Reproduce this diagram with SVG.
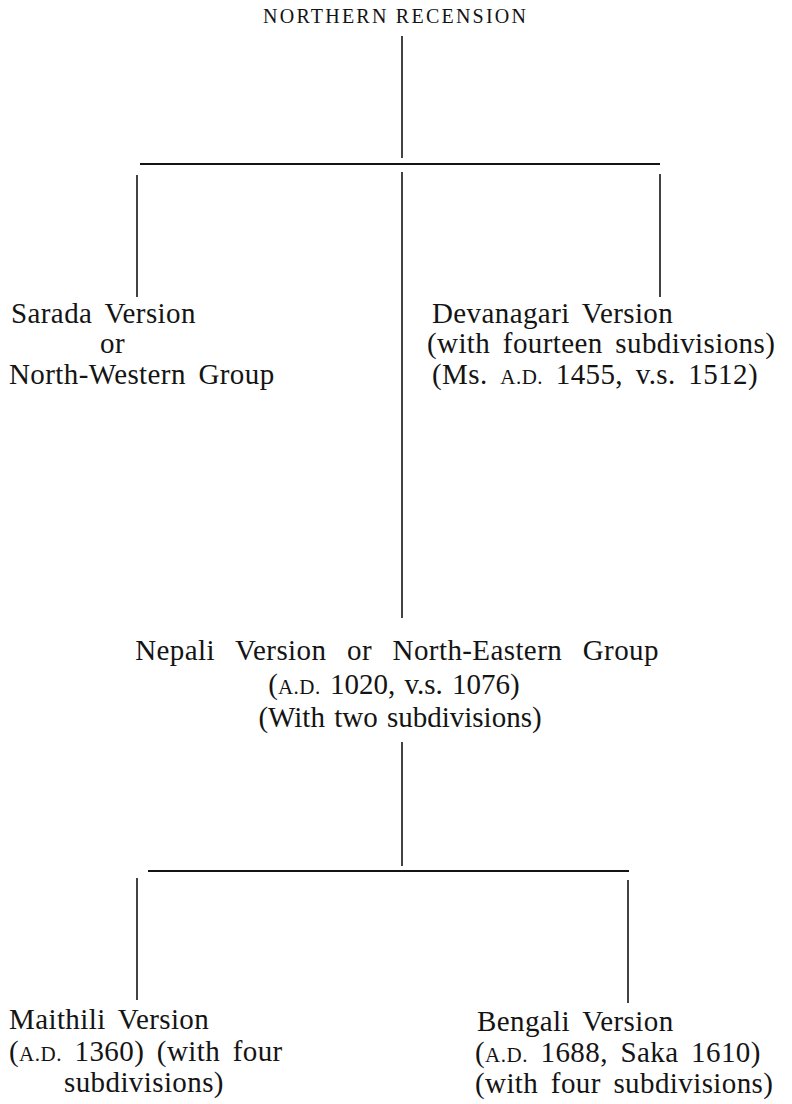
<svg xmlns="http://www.w3.org/2000/svg" width="792" height="1104" viewBox="0 0 792 1104">
<style>
.t{font-family:"Liberation Serif","Times New Roman",serif;font-size:29px;fill:#141414;letter-spacing:0.4px;word-spacing:5px}
.sc{font-size:21px;letter-spacing:0.5px}
.title{font-size:20px;letter-spacing:0;word-spacing:0}
.wide{word-spacing:13px}
.tight{letter-spacing:0;word-spacing:2px}
.c line{stroke:#141414;stroke-width:1.6}
.c line.h{stroke-width:2}
</style>
<rect width="792" height="1104" fill="#fff"/>
<g id="connectors" class="c">
<line x1="402" y1="36" x2="402" y2="158"/>
<line class="h" x1="140" y1="164" x2="660" y2="164"/>
<line x1="137" y1="175" x2="137" y2="297"/>
<line x1="402" y1="172" x2="402" y2="618"/>
<line x1="660" y1="174" x2="660" y2="297"/>
<line x1="402" y1="742" x2="402" y2="866"/>
<line class="h" x1="148" y1="871" x2="629" y2="871"/>
<line x1="137" y1="878" x2="137" y2="1000"/>
<line x1="628" y1="880" x2="628" y2="1003"/>
</g>
<g id="northern">
<text class="t title" x="263" y="23" textLength="263" lengthAdjust="spacing">NORTHERN RECENSION</text>
</g>
<g id="sarada">
<text class="t" x="11" y="323">Sarada Version</text>
<text class="t" x="100" y="353">or</text>
<text class="t" x="9" y="384">North-Western Group</text>
</g>
<g id="devanagari">
<text class="t" x="432" y="323">Devanagari Version</text>
<text class="t" x="427" y="353">(with fourteen subdivisions)</text>
<text class="t" x="432" y="384">(Ms. <tspan class="sc">A.D.</tspan> 1455, v.s. 1512)</text>
</g>
<g id="nepali">
<text class="t wide" x="397" y="660" text-anchor="middle">Nepali Version or North-Eastern Group</text>
<text class="t tight" x="394" y="694" text-anchor="middle">(<tspan class="sc">A.D.</tspan> 1020, v.s. 1076)</text>
<text class="t tight" x="400" y="727" text-anchor="middle">(With two subdivisions)</text>
</g>
<g id="maithili">
<text class="t" x="9" y="1029">Maithili Version</text>
<text class="t" x="9" y="1061">(<tspan class="sc">A.D.</tspan> 1360) (with four</text>
<text class="t" x="64" y="1092">subdivisions)</text>
</g>
<g id="bengali">
<text class="t" x="477" y="1031">Bengali Version</text>
<text class="t" x="475" y="1062">(<tspan class="sc">A.D.</tspan> 1688, Saka 1610)</text>
<text class="t" x="475" y="1093">(with four subdivisions)</text>
</g>
</svg>
